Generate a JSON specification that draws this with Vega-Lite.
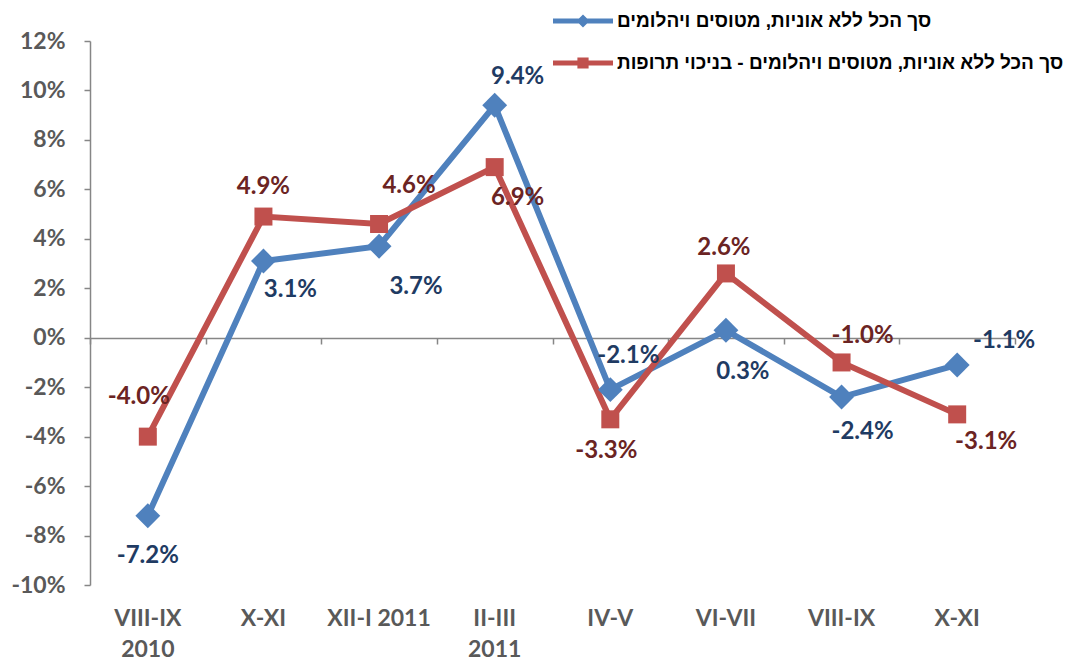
{
  "$schema": "https://vega.github.io/schema/vega-lite/v6.json",
  "width": 925,
  "height": 544,
  "autosize": "none",
  "padding": {"left": 90, "top": 41, "right": 59, "bottom": 75},
  "background": "white",
  "config": {
    "view": {"stroke": null},
    "locale": {"number": {"decimal": ".", "thousands": ",", "grouping": [3], "currency": ["$", ""], "minus": "-"}},
    "text": {"font": "Lato", "fontWeight": "bold", "fontSize": 24},
    "legend": {
      "orient": "none",
      "legendX": 473,
      "legendY": -40,
      "title": null,
      "padding": 0,
      "symbolSize": 1600,
      "symbolStrokeWidth": 0,
      "labelOffset": 14,
      "labelFont": "Liberation Sans",
      "labelFontWeight": "bold",
      "labelFontSize": 19,
      "labelColor": "#000000",
      "labelLimit": 800,
      "rowPadding": 12
    }
  },
  "data": {
    "values": [
      {"period": "VIII-IX 2010", "series": "סך הכל ללא אוניות, מטוסים ויהלומים", "value": -0.072},
      {"period": "X-XI 2010", "series": "סך הכל ללא אוניות, מטוסים ויהלומים", "value": 0.031},
      {"period": "XII-I 2011", "series": "סך הכל ללא אוניות, מטוסים ויהלומים", "value": 0.037},
      {"period": "II-III 2011", "series": "סך הכל ללא אוניות, מטוסים ויהלומים", "value": 0.094},
      {"period": "IV-V 2011", "series": "סך הכל ללא אוניות, מטוסים ויהלומים", "value": -0.021},
      {"period": "VI-VII 2011", "series": "סך הכל ללא אוניות, מטוסים ויהלומים", "value": 0.003},
      {"period": "VIII-IX 2011", "series": "סך הכל ללא אוניות, מטוסים ויהלומים", "value": -0.024},
      {"period": "X-XI 2011", "series": "סך הכל ללא אוניות, מטוסים ויהלומים", "value": -0.011},
      {"period": "VIII-IX 2010", "series": "סך הכל ללא אוניות, מטוסים ויהלומים - בניכוי תרופות", "value": -0.040},
      {"period": "X-XI 2010", "series": "סך הכל ללא אוניות, מטוסים ויהלומים - בניכוי תרופות", "value": 0.049},
      {"period": "XII-I 2011", "series": "סך הכל ללא אוניות, מטוסים ויהלומים - בניכוי תרופות", "value": 0.046},
      {"period": "II-III 2011", "series": "סך הכל ללא אוניות, מטוסים ויהלומים - בניכוי תרופות", "value": 0.069},
      {"period": "IV-V 2011", "series": "סך הכל ללא אוניות, מטוסים ויהלומים - בניכוי תרופות", "value": -0.033},
      {"period": "VI-VII 2011", "series": "סך הכל ללא אוניות, מטוסים ויהלומים - בניכוי תרופות", "value": 0.026},
      {"period": "VIII-IX 2011", "series": "סך הכל ללא אוניות, מטוסים ויהלומים - בניכוי תרופות", "value": -0.010},
      {"period": "X-XI 2011", "series": "סך הכל ללא אוניות, מטוסים ויהלומים - בניכוי תרופות", "value": -0.031}
    ]
  },
  "encoding": {
    "x": {
      "field": "period",
      "type": "ordinal",
      "sort": null,
      "scale": {"type": "band", "paddingInner": 0, "paddingOuter": 0},
      "axis": null
    },
    "y": {
      "field": "value",
      "type": "quantitative",
      "scale": {"domain": [-0.1, 0.12], "nice": false, "zero": false},
      "axis": {
        "title": null,
        "values": [-0.1, -0.08, -0.06, -0.04, -0.02, 0, 0.02, 0.04, 0.06, 0.08, 0.1, 0.12],
        "format": ".0%",
        "grid": false,
        "domainColor": "#868686",
        "domainWidth": 1.5,
        "tickColor": "#868686",
        "tickWidth": 1.5,
        "tickSize": 6,
        "labelPadding": 19,
        "labelFont": "Lato",
        "labelFontWeight": "bold",
        "labelFontSize": 23,
        "labelColor": "#595959"
      }
    }
  },
  "resolve": {"scale": {"shape": "independent", "color": "independent", "size": "independent"}, "axis": {"x": "independent"}},
  "layer": [
    {
      "mark": {"type": "rule", "opacity": 0},
      "encoding": {
        "x": {
          "field": "period",
          "type": "ordinal",
          "sort": null,
          "axis": {
            "orient": "bottom",
            "title": null,
            "domain": false,
            "ticks": false,
            "labelPadding": 22,
            "labelAngle": 0,
            "labelFont": "Lato",
            "labelFontWeight": "bold",
            "labelFontSize": 23,
            "labelColor": "#595959",
            "labelLineHeight": 31,
            "labelBaseline": "top",
            "labelExpr": "datum.value == 'VIII-IX 2010' ? ['VIII-IX', '2010'] : datum.value == 'II-III 2011' ? ['II-III', '2011'] : datum.value == 'XII-I 2011' ? 'XII-I 2011' : split(datum.value, ' ')[0]"
          }
        }
      }
    },
    {
      "mark": {"type": "rule", "opacity": 0},
      "encoding": {
        "x": {
          "field": "period",
          "type": "ordinal",
          "sort": null,
          "axis": {
            "orient": "bottom",
            "offset": -247,
            "title": null,
            "labels": false,
            "domain": true,
            "domainColor": "#868686",
            "domainWidth": 1.5,
            "ticks": true,
            "tickBand": "extent",
            "tickColor": "#868686",
            "tickWidth": 1.5,
            "tickSize": 6
          }
        }
      }
    },
    {
      "mark": {"type": "line", "strokeWidth": 6, "strokeCap": "butt", "strokeJoin": "miter"},
      "encoding": {
        "color": {
          "field": "series",
          "type": "nominal",
          "sort": null,
          "scale": {"range": ["#4F81BD", "#C0504D"]},
          "legend": null
        }
      }
    },
    {
      "mark": {"type": "point", "filled": true, "opacity": 1, "strokeWidth": 0},
      "encoding": {
        "color": {
          "field": "series",
          "type": "nominal",
          "sort": null,
          "scale": {"range": ["#4F81BD", "#C0504D"]},
          "legend": null
        },
        "shape": {
          "field": "series",
          "type": "nominal",
          "sort": null,
          "scale": {"range": ["diamond", "square"]},
          "legend": null
        },
        "size": {
          "field": "series",
          "type": "nominal",
          "sort": null,
          "scale": {"range": [620, 324]},
          "legend": null
        }
      }
    },
    {
      "transform": [{"filter": "datum.value > 1"}],
      "mark": {"type": "point", "filled": true, "opacity": 1, "strokeWidth": 0},
      "encoding": {
        "color": {
          "field": "series",
          "type": "nominal",
          "sort": null,
          "scale": {
            "domain": ["סך הכל ללא אוניות, מטוסים ויהלומים", "סך הכל ללא אוניות, מטוסים ויהלומים - בניכוי תרופות"],
            "range": ["#4F81BD", "#C0504D"]
          },
          "legend": {}
        },
        "shape": {
          "field": "series",
          "type": "nominal",
          "sort": null,
          "scale": {
            "domain": ["סך הכל ללא אוניות, מטוסים ויהלומים", "סך הכל ללא אוניות, מטוסים ויהלומים - בניכוי תרופות"],
            "range": [
              "M-1.5,-0.13L1.5,-0.13L1.5,0.13L-1.5,0.13Z M0,-0.33L0.33,0L0,0.33L-0.33,0Z",
              "M-1.5,-0.13L1.5,-0.13L1.5,0.13L-1.5,0.13Z M-0.28,-0.28L0.28,-0.28L0.28,0.28L-0.28,0.28Z"
            ]
          },
          "legend": {}
        }
      }
    },
    {
      "transform": [{"filter": "datum.value == -0.072"}],
      "mark": {"type": "text", "color": "#1F3B63", "dx": 0, "dy": 40},
      "encoding": {"text": {"field": "value", "format": ".1%"}}
    },
    {
      "transform": [{"filter": "datum.value == 0.031"}],
      "mark": {"type": "text", "color": "#1F3B63", "dx": 27, "dy": 29},
      "encoding": {"text": {"field": "value", "format": ".1%"}}
    },
    {
      "transform": [{"filter": "datum.value == 0.037"}],
      "mark": {"type": "text", "color": "#1F3B63", "dx": 37, "dy": 41},
      "encoding": {"text": {"field": "value", "format": ".1%"}}
    },
    {
      "transform": [{"filter": "datum.value == 0.094"}],
      "mark": {"type": "text", "color": "#1F3B63", "dx": 23, "dy": -28},
      "encoding": {"text": {"field": "value", "format": ".1%"}}
    },
    {
      "transform": [{"filter": "datum.value == -0.021"}],
      "mark": {"type": "text", "color": "#1F3B63", "dx": 18, "dy": -34},
      "encoding": {"text": {"field": "value", "format": ".1%"}}
    },
    {
      "transform": [{"filter": "datum.value == 0.003"}],
      "mark": {"type": "text", "color": "#1F3B63", "dx": 17, "dy": 42},
      "encoding": {"text": {"field": "value", "format": ".1%"}}
    },
    {
      "transform": [{"filter": "datum.value == -0.024"}],
      "mark": {"type": "text", "color": "#1F3B63", "dx": 21, "dy": 35},
      "encoding": {"text": {"field": "value", "format": ".1%"}}
    },
    {
      "transform": [{"filter": "datum.value == -0.011"}],
      "mark": {"type": "text", "color": "#1F3B63", "dx": 47, "dy": -24},
      "encoding": {"text": {"field": "value", "format": ".1%"}}
    },
    {
      "transform": [{"filter": "datum.value == -0.04"}],
      "mark": {"type": "text", "color": "#6B2423", "dx": -9, "dy": -40},
      "encoding": {"text": {"field": "value", "format": ".1%"}}
    },
    {
      "transform": [{"filter": "datum.value == 0.049"}],
      "mark": {"type": "text", "color": "#6B2423", "dx": 0, "dy": -30},
      "encoding": {"text": {"field": "value", "format": ".1%"}}
    },
    {
      "transform": [{"filter": "datum.value == 0.046"}],
      "mark": {"type": "text", "color": "#6B2423", "dx": 30, "dy": -38},
      "encoding": {"text": {"field": "value", "format": ".1%"}}
    },
    {
      "transform": [{"filter": "datum.value == 0.069"}],
      "mark": {"type": "text", "color": "#6B2423", "dx": 23, "dy": 31},
      "encoding": {"text": {"field": "value", "format": ".1%"}}
    },
    {
      "transform": [{"filter": "datum.value == -0.033"}],
      "mark": {"type": "text", "color": "#6B2423", "dx": -4, "dy": 32},
      "encoding": {"text": {"field": "value", "format": ".1%"}}
    },
    {
      "transform": [{"filter": "datum.value == 0.026"}],
      "mark": {"type": "text", "color": "#6B2423", "dx": -2, "dy": -25},
      "encoding": {"text": {"field": "value", "format": ".1%"}}
    },
    {
      "transform": [{"filter": "datum.value == -0.01"}],
      "mark": {"type": "text", "color": "#6B2423", "dx": 21, "dy": -26},
      "encoding": {"text": {"field": "value", "format": ".1%"}}
    },
    {
      "transform": [{"filter": "datum.value == -0.031"}],
      "mark": {"type": "text", "color": "#6B2423", "dx": 29, "dy": 28},
      "encoding": {"text": {"field": "value", "format": ".1%"}}
    }
  ]
}
